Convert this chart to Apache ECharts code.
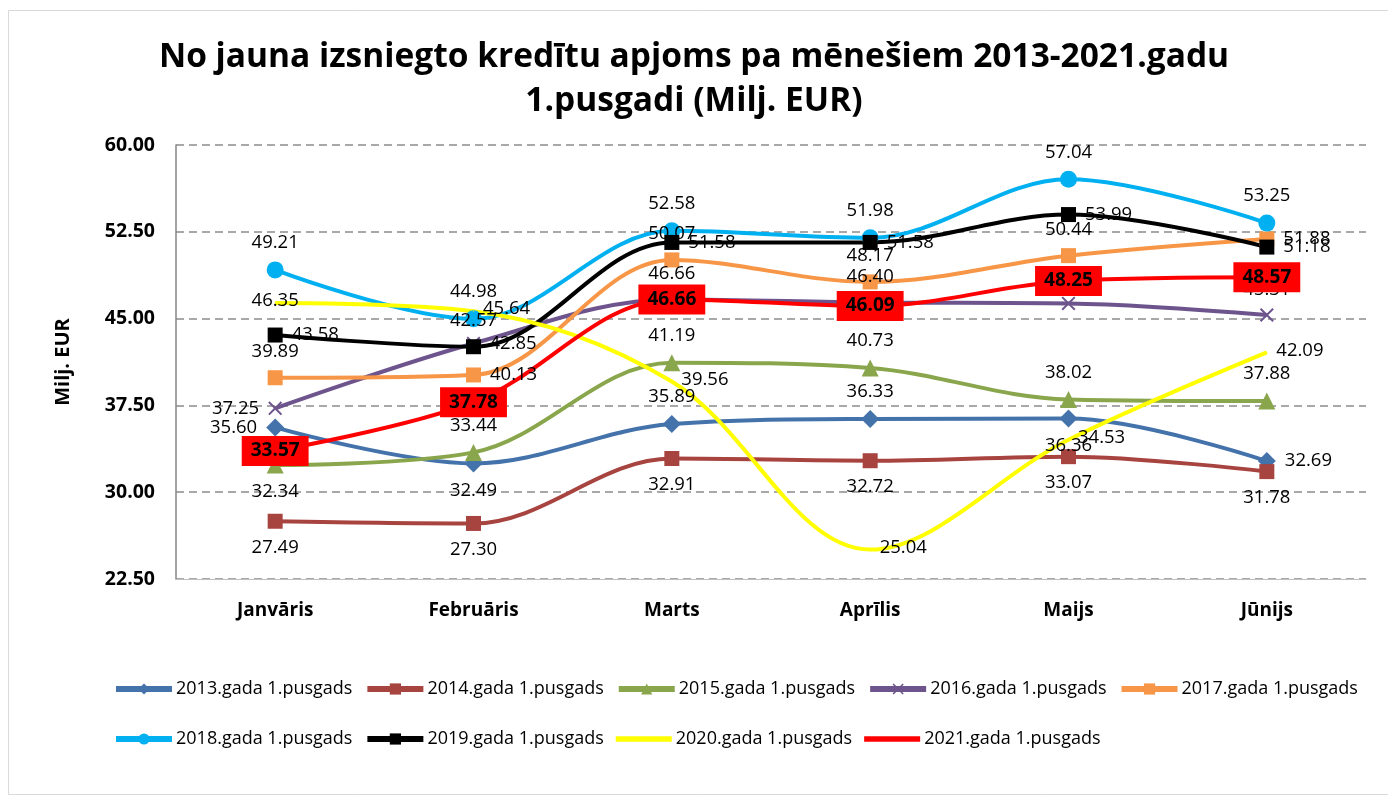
<!DOCTYPE html>
<html>
<head>
<meta charset="utf-8">
<script src="https://cdn.jsdelivr.net/npm/echarts@6/dist/echarts.min.js"></script>
<style>
  html, body { margin: 0; padding: 0; background: #fff; }
  #chart { width: 1388px; height: 802px; }
</style>
</head>
<body>
<div id="chart"></div>
<script>
const months = ['Janvāris', 'Februāris', 'Marts', 'Aprīlis', 'Maijs', 'Jūnijs']
const yTicks = [22.5, 30, 37.5, 45, 52.5, 60]

const v2013 = [35.60, 32.49, 35.89, 36.33, 36.36, 32.69]
const v2014 = [27.49, 27.30, 32.91, 32.72, 33.07, 31.78]
const v2015 = [32.34, 33.44, 41.19, 40.73, 38.02, 37.88]
const v2016 = [37.25, 42.85, 46.66, 46.40, 46.31, 45.31]
const v2017 = [39.89, 40.13, 50.07, 48.17, 50.44, 51.88]
const v2018 = [49.21, 44.98, 52.58, 51.98, 57.04, 53.25]
const v2019 = [43.58, 42.57, 51.58, 51.58, 53.99, 51.18]
const v2020 = [46.35, 45.64, 39.56, 25.04, 34.53, 42.09]
const v2021 = [33.57, 37.78, 46.66, 46.09, 48.25, 48.57]

const font = '"Open Sans", sans-serif'
const crossPath = 'path://M0,1L1,0L5,4L9,0L10,1L6,5L10,9L9,10L5,6L1,10L0,9L4,5Z'
const barIcon = 'path://M0,0H60V6H0Z'

// build one series; pos = label position per month
function line(name, values, color, symbol, size, pos) {
  return {
    name: name,
    type: 'line',
    smooth: 0.35,
    smoothConstraint: false,
    symbol: symbol,
    symbolSize: size,
    lineStyle: { color: color, width: 4 },
    itemStyle: { color: color },
    data: values.map((v, i) => ({
      value: v,
      label: { position: pos[i] }
    })),
    label: {
      show: true,
      formatter: p => p.value.toFixed(2),
      color: '#000',
      fontFamily: font,
      fontSize: 18.5,
      distance: 9
    },
    emphasis: { disabled: true }
  }
}

const series = [
  line('2013.gada 1.pusgads', v2013, '#4472AA', 'diamond', 18,
    ['left', 'bottom', 'top', 'top', 'bottom', 'right']),
  line('2014.gada 1.pusgads', v2014, '#A84440', 'rect', 15,
    ['bottom', 'bottom', 'bottom', 'bottom', 'bottom', 'bottom']),
  line('2015.gada 1.pusgads', v2015, '#8AA64C', 'triangle', 17,
    ['bottom', 'top', 'top', 'top', 'top', 'top']),
  line('2016.gada 1.pusgads', v2016, '#6E548D', crossPath, 14,
    ['left', 'right', 'top', 'top', 'top', 'top']),
  line('2017.gada 1.pusgads', v2017, '#F79646', 'rect', 15,
    ['top', 'right', 'top', 'top', 'top', 'right']),
  line('2018.gada 1.pusgads', v2018, '#00B0F0', 'circle', 17,
    ['top', 'top', 'top', 'top', 'top', 'top']),
  line('2019.gada 1.pusgads', v2019, '#000000', 'rect', 15,
    ['right', 'top', 'right', 'right', 'right', 'right']),
  line('2020.gada 1.pusgads', v2020, '#FFFF00', 'circle', 1,
    ['inside', 'right', 'right', 'right', 'right', 'right']),
  line('2021.gada 1.pusgads', v2021, '#FF0000', 'circle', 1,
    ['inside', 'inside', 'inside', 'inside', 'inside', 'inside'])
]
series[7].label.offset = [0, -2]
series[8].label = {
  show: true,
  formatter: p => p.value.toFixed(2),
  color: '#000',
  fontFamily: font,
  fontSize: 19,
  fontWeight: 'bold',
  backgroundColor: '#FF0000',
  padding: [6, 9, 5, 9]
}

// legend entries; lines without markers get a plain bar icon
const legendNames = series.map(s =>
  s.symbolSize === 1 ? { name: s.name, icon: barIcon } : s.name)

const legendBase = {
  left: 108,
  itemWidth: 56,
  itemHeight: 14,
  itemGap: 12,
  lineStyle: { width: 6 },
  textStyle: { fontFamily: font, fontSize: 18, color: '#000', padding: [0, 0, 0, -1] }
}

const chart = echarts.init(document.getElementById('chart'))
chart.setOption({
  backgroundColor: '#fff',
  animation: false,
  title: {
    text: 'No jauna izsniegto kredītu apjoms pa mēnešiem 2013-2021.gadu\n1.pusgadi (Milj. EUR)',
    left: 'center',
    top: 30,
    textStyle: {
      fontFamily: font,
      fontSize: 33.5,
      fontWeight: 'bold',
      color: '#000',
      lineHeight: 44
    }
  },
  legend: [
    Object.assign({ data: legendNames.slice(0, 5), top: 675 }, legendBase),
    Object.assign({ data: legendNames.slice(5), top: 725 }, legendBase)
  ],
  grid: { left: 176, right: 22, top: 145, bottom: 223 },
  xAxis: {
    type: 'category',
    data: months,
    boundaryGap: true,
    axisLine: { lineStyle: { color: '#BFBFBF', width: 1 } },
    axisTick: { show: false },
    axisLabel: {
      color: '#000',
      fontFamily: font,
      fontSize: 19,
      fontWeight: 'bold',
      margin: 22
    }
  },
  yAxis: {
    type: 'value',
    min: yTicks[0],
    max: yTicks[yTicks.length - 1],
    interval: 7.5,
    name: 'Milj. EUR',
    nameLocation: 'middle',
    nameGap: 103,
    nameTextStyle: {
      color: '#000',
      fontFamily: font,
      fontSize: 20,
      fontWeight: 'bold'
    },
    axisLine: { show: true, lineStyle: { color: '#868686', width: 1.5 } },
    axisTick: { show: false },
    axisLabel: {
      color: '#000',
      fontFamily: font,
      fontSize: 19.5,
      fontWeight: 'bold',
      margin: 21,
      formatter: v => v.toFixed(2)
    },
    splitLine: {
      lineStyle: { color: '#8C8C8C', type: [8, 5], width: 1.5 }
    }
  },
  graphic: [{
    type: 'rect',
    shape: { x: 8.5, y: 10.5, width: 1400, height: 784 },
    style: { fill: 'none', stroke: '#D9D9D9', lineWidth: 1 },
    silent: true
  }],
  series: series
})
</script>
</body>
</html>
